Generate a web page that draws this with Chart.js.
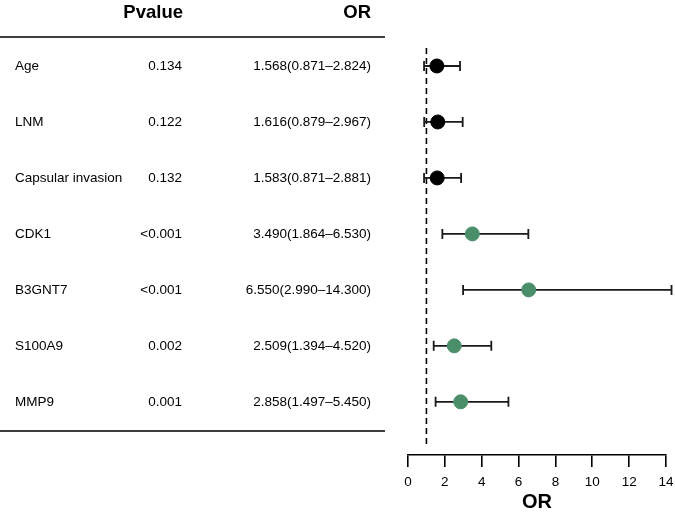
<!DOCTYPE html>
<html>
<head>
<meta charset="utf-8">
<script src="https://cdn.jsdelivr.net/npm/chart.js@4/dist/chart.umd.min.js"></script>
<style>
  html, body { margin: 0; padding: 0; background: #fff; }
  #wrap { width: 675px; height: 512px; }
</style>
</head>
<body>
<div id="wrap"><canvas id="forest" width="675" height="512"></canvas></div>
<script>
const ctx = document.getElementById('forest').getContext('2d');

const labels = ['Age', 'LNM', 'Capsular invasion', 'CDK1', 'B3GNT7', 'S100A9', 'MMP9'];
const pvalues = ['0.134', '0.122', '0.132', '<0.001', '<0.001', '0.002', '0.001'];
const orValues = [1.568, 1.616, 1.583, 3.490, 6.550, 2.509, 2.858];
const lower = [0.871, 0.879, 0.871, 1.864, 2.990, 1.394, 1.497];
const upper = [2.824, 2.967, 2.881, 6.530, 14.300, 4.520, 5.450];
const orText = ['1.568(0.871\u20132.824)', '1.616(0.879\u20132.967)', '1.583(0.871\u20132.881)',
    '3.490(1.864\u20136.530)', '6.550(2.990\u201314.300)', '2.509(1.394\u20134.520)', '2.858(1.497\u20135.450)'];
const pointColors = ['#000000', '#000000', '#000000', '#4a8f6a', '#4a8f6a', '#4a8f6a', '#4a8f6a'];
const refLine = 1;

const font = '"Liberation Sans", Arial, sans-serif';

// table on the left + error bars + reference line
const forestPlugin = {
    id: 'forest',
    beforeDatasetsDraw(chart) {
        const c = chart.ctx;
        const x = chart.scales.x;
        const y = chart.scales.y;
        const area = chart.chartArea;
        c.save();
        // dashed line at OR = 1
        c.strokeStyle = '#000';
        c.lineWidth = 1.6;
        c.setLineDash([6, 4]);
        const rx = x.getPixelForValue(refLine);
        c.beginPath();
        c.moveTo(rx, area.top + 10);
        c.lineTo(rx, area.bottom - 7);
        c.stroke();
        c.setLineDash([]);
        // error bars
        c.strokeStyle = '#1a1a1a';
        c.lineWidth = 1.8;
        labels.forEach((l, i) => {
            const py = y.getPixelForValue(i + 1);
            const x1 = x.getPixelForValue(lower[i]);
            const x2 = x.getPixelForValue(upper[i]);
            c.beginPath();
            c.moveTo(x1, py); c.lineTo(x2, py);
            c.moveTo(x1, py - 5); c.lineTo(x1, py + 5);
            c.moveTo(x2, py - 5); c.lineTo(x2, py + 5);
            c.stroke();
        });
        c.restore();
    },
    afterDraw(chart) {
        const c = chart.ctx;
        const y = chart.scales.y;
        c.save();
        c.fillStyle = '#000';
        c.textBaseline = 'middle';
        // headers
        c.font = 'bold 18.5px ' + font;
        c.textAlign = 'right';
        c.fillText('Pvalue', 183, 13);
        c.fillText('OR', 371, 13);
        // rules
        c.strokeStyle = '#000';
        c.lineWidth = 1.6;
        c.beginPath();
        c.moveTo(0, 37); c.lineTo(385, 37);
        c.moveTo(0, 431); c.lineTo(385, 431);
        c.stroke();
        // rows
        c.font = '13.5px ' + font;
        labels.forEach((l, i) => {
            const py = y.getPixelForValue(i + 1);
            c.textAlign = 'left';
            c.fillText(l, 15, py);
            c.textAlign = 'right';
            c.fillText(pvalues[i], 182, py);
            c.fillText(orText[i], 371, py);
        });
        c.restore();
    }
};

new Chart(ctx, {
    type: 'scatter',
    data: {
        datasets: [{
            data: orValues.map((v, i) => ({ x: v, y: i + 1 })),
            backgroundColor: pointColors,
            borderColor: pointColors,
            pointRadius: 7,
            pointHoverRadius: 7
        }]
    },
    options: {
        responsive: false,
        animation: false,
        layout: { padding: { left: 408, right: 9, top: 38, bottom: 0 } },
        plugins: {
            legend: { display: false },
            tooltip: { enabled: false }
        },
        scales: {
            x: {
                type: 'linear',
                min: 0,
                max: 14,
                afterFit: s => { s.height = 57; s.paddingLeft = 0; s.paddingRight = 0; },
                border: { display: true, color: '#000', width: 1.6 },
                grid: { drawOnChartArea: false, drawTicks: true, tickLength: 12, color: '#000', lineWidth: 1.6 },
                ticks: { stepSize: 2, color: '#000', padding: 7, font: { family: font, size: 13.5 } },
                title: { display: true, text: 'OR', color: '#000', padding: 0, font: { family: font, size: 20, weight: 'bold', lineHeight: 1 } }
            },
            y: {
                type: 'linear',
                display: false,
                reverse: true,
                min: 0.5,
                max: 7.95
            }
        }
    },
    plugins: [forestPlugin]
});
</script>
</body>
</html>
